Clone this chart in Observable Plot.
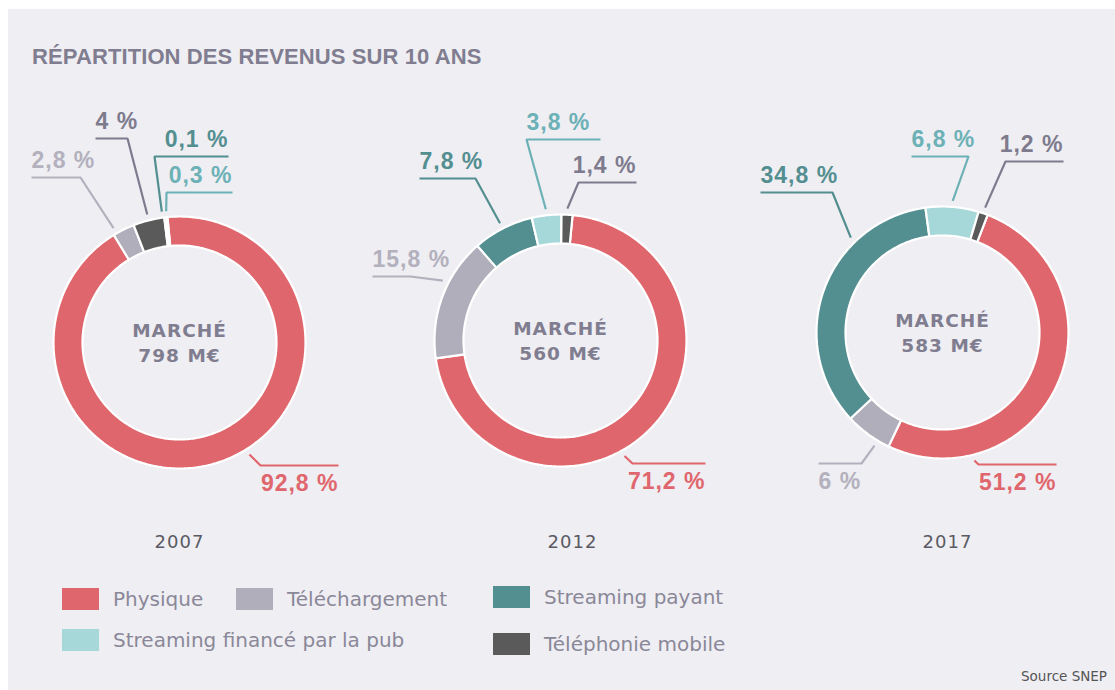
<!DOCTYPE html>
<html><head><meta charset="utf-8">
<script src="https://cdn.jsdelivr.net/npm/d3@7"></script>
<script src="https://cdn.jsdelivr.net/npm/@observablehq/plot@0.6"></script>
<style>
html,body{margin:0;padding:0;background:#fff;width:1115px;height:690px;overflow:hidden;position:relative;}
#panel{position:absolute;left:8px;top:9px;width:1107px;height:681px;background:#efeef3;}
#title{position:absolute;left:32px;top:46px;font:bold 22px "Liberation Sans";line-height:22px;color:#7f7d8f;white-space:nowrap;letter-spacing:0.1px;}
#chart{position:absolute;left:0;top:0;}
#chart svg{background:none;overflow:visible;}
#chart text{letter-spacing:1px;}
.leg{position:absolute;display:flex;align-items:center;font:20px "DejaVu Sans";color:#8a8898;white-space:nowrap;}
.sw{width:37px;height:22px;margin-right:14px;flex:none;}
#source{position:absolute;right:8px;top:668px;font:13.5px "DejaVu Sans";color:#555;white-space:nowrap;}
</style></head>
<body>
<div id="panel"></div>
<div id="title">RÉPARTITION DES REVENUS SUR 10 ANS</div>
<div id="chart"></div>
<div id="legend"></div>
<div id="source">Source SNEP</div>
<script>
// ---------- data ----------
const years = ["2007", "2012", "2017"];
const markets = [798, 560, 583];
const categories = ["Physique", "Téléchargement", "Streaming payant", "Streaming financé par la pub", "Téléphonie mobile"];
const shares2007 = [92.8, 2.8, 0.1, 0.3, 4];
const shares2012 = [71.2, 15.8, 7.8, 3.8, 1.4];
const shares2017 = [51.2, 6, 34.8, 6.8, 1.2];
const sharesByYear = [shares2007, shares2012, shares2017];

// ---------- styles ----------
const fillColors = ["#e0666d", "#b0aebb", "#538e90", "#a6d8d9", "#5a5a5a"];
const labelColors = ["#e0666d", "#b3b1bd", "#538e90", "#6cb1b6", "#7d7b8d"];

// ---------- layout ----------
const W = 1115, H = 560;
const R_OUT = 126, R_IN = 97, R_LEAD = 132;
const donutLayout = [
  {cx: 179, cy: 342, start: -5.5, order: [0, 1, 4, 3, 2], yearX: 179},
  {cx: 560, cy: 340, start: 5.5, order: [0, 1, 2, 3, 4], yearX: 572},
  {cx: 942, cy: 332, start: 21, order: [0, 1, 2, 3, 4], yearX: 947}
];
const yearY = 547;
// leader layout per donut, per category (relative to donut centre)
const leaderLayout = [
  [
    {a: 148, e: [81, 123], x2: 159, align: "end", side: "below"},
    {a: 330, e: [-99, -165], x2: -148, align: "start", side: "above"},
    {a: 352.3, e: [-25, -186], x2: 49, align: "end", side: "above"},
    {a: 354.2, e: [-13, -150], x2: 53, align: "end", side: "above"},
    {a: null, e: [-52, -204], x2: -84, align: "start", side: "above"}
  ],
  [
    {a: 151, e: [72, 123], x2: 145, align: "end", side: "below"},
    {a: 297, e: [-150, -64], x2: -188, align: "start", side: "above"},
    {a: null, e: [-85, -162], x2: -141, align: "start", side: "above"},
    {a: null, e: [-34, -201], x2: 40, align: "start", side: "above"},
    {a: null, e: [18, -158], x2: 76, align: "end", side: "above"}
  ],
  [
    {a: 166, e: [36, 132], x2: 114, align: "end", side: "below"},
    {a: 211, e: [-81, 131], x2: -124, align: "start", side: "below"},
    {a: 316, e: [-110, -140], x2: -182, align: "start", side: "above"},
    {a: null, e: [26, -176], x2: -31, align: "start", side: "above"},
    {a: null, e: [63, -171], x2: 121, align: "end", side: "above"}
  ]
];
const legendPos = [[62, 587], [236, 587], [493, 585], [62, 628], [493, 632]];

// ---------- build geometry from data ----------
const rad = d => d * Math.PI / 180;
const polar = (L, a, r) => [L.cx + r * Math.sin(rad(a)), L.cy - r * Math.cos(rad(a))];
const fmt = v => String(v).replace(".", ",") + " %";

const slices = [];
const leaders = [];
const labels = [];
const centers = [];
years.forEach((yr, i) => {
  const L = donutLayout[i];
  let acc = L.start;
  const mids = [];
  for (const c of L.order) {
    const sweep = sharesByYear[i][c] * 3.6;
    const a0 = acc, a1 = acc + sweep;
    acc = a1;
    mids[c] = (a0 + a1) / 2;
    const n = Math.max(2, Math.ceil(sweep) + 1);
    const key = yr + "-" + c;
    for (let k = 0; k < n; k++) {
      const p = polar(L, a0 + (a1 - a0) * k / (n - 1), R_OUT);
      slices.push({key, category: categories[c], x: p[0], y: p[1]});
    }
    for (let k = n - 1; k >= 0; k--) {
      const p = polar(L, a0 + (a1 - a0) * k / (n - 1), R_IN);
      slices.push({key, category: categories[c], x: p[0], y: p[1]});
    }
  }
  categories.forEach((cat, c) => {
    const lay = leaderLayout[i][c];
    const ang = lay.a == null ? mids[c] : lay.a;
    const s = polar(L, ang, R_LEAD);
    const ex = L.cx + lay.e[0], ey = L.cy + lay.e[1], x2 = L.cx + lay.x2;
    const key = yr + "-" + c;
    leaders.push({key, c, x: s[0], y: s[1]}, {key, c, x: ex, y: ey}, {key, c, x: x2, y: ey});
    const tx = lay.align === "start" ? Math.min(ex, x2) : Math.max(ex, x2);
    const ty = lay.side === "above" ? ey - 10 : ey + 25;
    labels.push({c, align: lay.align, x: tx, y: ty, text: fmt(sharesByYear[i][c])});
  });
  centers.push({x: L.cx, y: L.cy - 6, text: "MARCHÉ"});
  centers.push({x: L.cx, y: L.cy + 19, text: markets[i] + " M€"});
});
const yearLabels = years.map((yr, i) => ({x: donutLayout[i].yearX, y: yearY, text: yr}));

const marks = [
  Plot.line(slices, {x: "x", y: "y", z: "key", fill: "category", stroke: "white", strokeWidth: 2.2, curve: "linear-closed", strokeLinejoin: "miter"})
];
categories.forEach((cat, c) => {
  marks.push(Plot.line(leaders.filter(d => d.c === c), {x: "x", y: "y", z: "key", stroke: labelColors[c], strokeWidth: 2.2, strokeLinejoin: "miter", strokeLinecap: "butt", curve: "linear"}));
  for (const al of ["start", "end"]) {
    marks.push(Plot.text(labels.filter(d => d.c === c && d.align === al), {x: "x", y: "y", text: "text", fill: labelColors[c], textAnchor: al, lineAnchor: "bottom", fontSize: 23, fontWeight: "bold", fontFamily: "Liberation Sans"}));
  }
});
marks.push(Plot.text(centers, {x: "x", y: "y", text: "text", fill: "#7f7d8f", textAnchor: "middle", lineAnchor: "bottom", fontSize: 18.5, fontWeight: "bold", fontFamily: "DejaVu Sans"}));
marks.push(Plot.text(yearLabels, {x: "x", y: "y", text: "text", fill: "#5a5a62", textAnchor: "middle", lineAnchor: "bottom", fontSize: 18, fontFamily: "DejaVu Sans"}));

const chart = Plot.plot({
  width: W, height: H,
  margin: 0,
  x: {type: "linear", domain: [0, W], range: [0, W], axis: null},
  y: {type: "linear", domain: [0, H], range: [0, H], axis: null},
  color: {domain: categories, range: fillColors},
  style: {background: "none", overflow: "visible"},
  marks
});
document.getElementById("chart").appendChild(chart);

// legend
const leg = document.getElementById("legend");
categories.forEach((cat, c) => {
  const d = document.createElement("div");
  d.className = "leg";
  d.style.left = legendPos[c][0] + "px";
  d.style.top = legendPos[c][1] + "px";
  d.innerHTML = `<span class="sw" style="background:${fillColors[c]}"></span><span>${cat}</span>`;
  leg.appendChild(d);
});
</script>
</body></html>
